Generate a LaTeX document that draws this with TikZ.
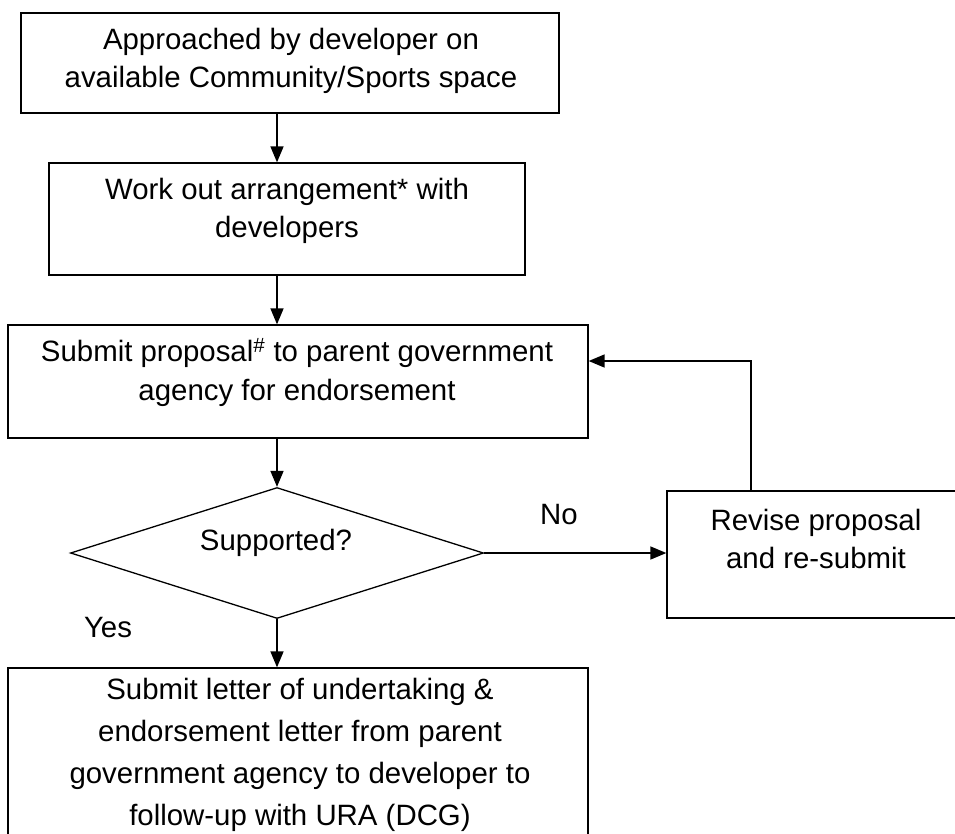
\documentclass[tikz,border=0pt]{standalone}
\usepackage{fontspec}
\setmainfont{Liberation Sans}
\usetikzlibrary{arrows.meta,shapes.geometric}
\begin{document}
\begin{tikzpicture}[x=1pt,y=-1pt,
  box/.style={draw, line width=1.3pt, rectangle, inner sep=0pt},
  txt/.style={align=center, font=\fontsize{29.4}{38}\selectfont, inner sep=0pt},
  arr/.style={line width=1.6pt, -{Triangle[length=16pt,width=13pt]}},
]
\clip (0,0) rectangle (955,833);
% boxes
\node[box, minimum width=538pt, minimum height=100pt] (b1) at (290,63) {};
\node[box, minimum width=476pt, minimum height=112pt] (b2) at (287,219) {};
\node[box, minimum width=580pt, minimum height=113pt] (b3) at (298,381.5) {};
\node[box, shape=diamond, minimum width=413pt, minimum height=131pt] (d) at (277,553) {};
\node[box, minimum width=298pt, minimum height=127pt] (rev) at (816,554.5) {};
\node[box, minimum width=580pt, minimum height=200pt] (b4) at (298,768) {};
% texts
\node[txt] (t1) at (291,61) {Approached by developer on\\available Community/Sports space};
\node[txt] (t2) at (287,211) {Work out arrangement* with\\developers};
\node[txt, font=\fontsize{29.4}{39}\selectfont] (t3) at (297,372.5) {Submit proposal\textsuperscript{\#} to parent government\\agency for endorsement};
\node[txt] (td) at (276,543) {Supported?};
\node[txt] (tr) at (816,539) {Revise proposal\\and re-submit};
\node[txt, font=\fontsize{29.4}{42}\selectfont] (t4) at (300,755) {Submit letter of undertaking \&\\endorsement letter from parent\\government agency to developer to\\follow-up with URA (DCG)};
\node[txt] (no) at (559,515) {No};
\node[txt] (yes) at (108,628) {Yes};
% connectors
\draw[arr] (b1.south -| d.north) -- (b2.north -| d.north);
\draw[arr] (b2.south -| d.north) -- (b3.north -| d.north);
\draw[arr] (b3.south -| d.north) -- (d.north);
\draw[arr] (d.south) -- (b4.north -| d.south);
\draw[arr] (d.east) -- (d.east -| rev.west);
\coordinate (fbstart) at (913,491);
\coordinate (fbup) at (751,361);
\draw[arr] (fbstart) -- (fbstart -| fbup) -- (fbup) -- (fbup -| b3.east);
\end{tikzpicture}
\end{document}
